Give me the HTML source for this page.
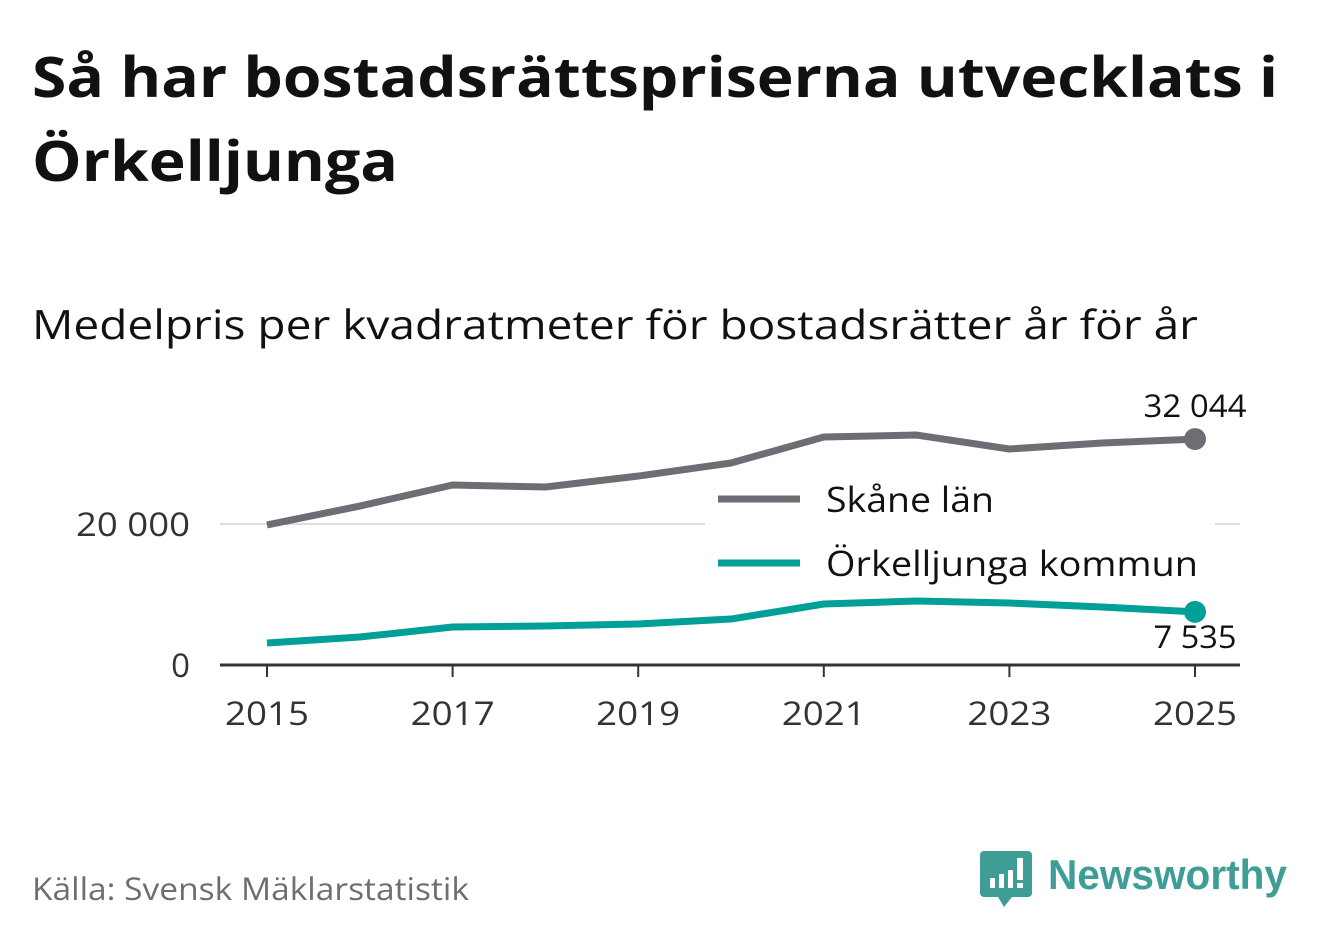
<!DOCTYPE html>
<html><head><meta charset="utf-8"><style>
body{margin:0;width:1322px;height:939px;background:#fff;font-family:"Open Sans","DejaVu Sans","Liberation Sans",sans-serif;overflow:hidden}
svg{position:absolute;left:0;top:0}
</style></head><body>
<svg width="1322" height="939">
<text x="32" y="97" font-size="56" font-weight="bold" fill="#111" textLength="1246" lengthAdjust="spacingAndGlyphs">Så har bostadsrättspriserna utvecklats i</text>
<text x="32" y="181" font-size="56" font-weight="bold" fill="#111" textLength="366" lengthAdjust="spacingAndGlyphs">Örkelljunga</text>
<text x="32" y="339" font-size="40" fill="#111" textLength="1166" lengthAdjust="spacingAndGlyphs">Medelpris per kvadratmeter för bostadsrätter år för år</text>
<g id="grid"></g>
<g id="axes"></g>
<g id="series"></g>
<g>
<rect x="705" y="470" width="510" height="122" fill="#fff" opacity="0.9"/>
<line x1="718" y1="499" x2="800" y2="499" stroke="#6e6d74" stroke-width="7"/>
<text x="826" y="512" font-size="35" fill="#111" textLength="168" lengthAdjust="spacingAndGlyphs">Skåne län</text>
<line x1="718" y1="563" x2="800" y2="563" stroke="#00a099" stroke-width="7"/>
<text x="826" y="576" font-size="35" fill="#111" textLength="372" lengthAdjust="spacingAndGlyphs">Örkelljunga kommun</text>
</g>
<text x="32" y="900" font-size="31" fill="#6e6d74" textLength="437" lengthAdjust="spacingAndGlyphs">Källa: Svensk Mäklarstatistik</text>
<g>
<path d="M984 851 h44 a4 4 0 0 1 4 4 v38 a4 4 0 0 1 -4 4 h-16 l-8 10 l-6 -10 h-14 a4 4 0 0 1 -4 -4 v-38 a4 4 0 0 1 4 -4z" fill="#3e9e96"/>
<rect x="990" y="878" width="5" height="10" fill="#fff"/><rect x="999" y="874" width="5" height="14" fill="#fff"/><rect x="1008" y="870" width="5" height="18" fill="#fff"/><rect x="1017" y="858" width="6" height="22" fill="#fff"/><rect x="1017" y="883" width="6" height="5" fill="#fff"/>
<text x="1048" y="889" font-size="42" font-weight="bold" fill="#3e9e96" textLength="239" lengthAdjust="spacingAndGlyphs" font-family="Liberation Sans, sans-serif">Newsworthy</text>
</g>
</svg>
<script>
const years=[2015,2016,2017,2018,2019,2020,2021,2022,2023,2024,2025];
const skane=[19860,22550,25530,25250,26800,28650,32340,32620,30640,31490,32044];
const orkelljunga=[3120,3970,5390,5530,5820,6520,8650,9080,8790,8230,7535];
const xTicks=[2015,2017,2019,2021,2023,2025];
const yTicks=[0,20000];
const NS="http://www.w3.org/2000/svg";
const X=y=>267+(y-2015)*92.8;
const Y=v=>665-v*0.00705;
function mk(t,a,p){const e=document.createElementNS(NS,t);for(const k in a)e.setAttribute(k,a[k]);document.getElementById(p).appendChild(e);return e;}
const fmt=v=>String(v).replace(/\B(?=(\d{3})+(?!\d))/g," ");
yTicks.forEach(v=>{
 if(v>0){const l=mk('line',{x1:220,x2:1240,y1:Y(v),y2:Y(v),stroke:'#ddd','stroke-width':2},'grid');
 
 }
 const a={x:190,y:Y(v)+12,'text-anchor':'end','font-size':33,fill:'#333'};
 if(v>0){a.textLength=114;a.lengthAdjust='spacingAndGlyphs';}
 const t=mk('text',a,'axes');t.textContent=fmt(v);
 
 
});
const ax=mk('line',{x1:220,x2:1240,y1:Y(0),y2:Y(0),stroke:'#333','stroke-width':3},'axes');


xTicks.forEach(y=>{
 const tk=mk('line',{x1:X(y),x2:X(y),y1:Y(0),y2:Y(0)+12,stroke:'#333','stroke-width':2},'axes');
 
 
 const t=mk('text',{x:X(y),y:725,'text-anchor':'middle','font-size':33,fill:'#333',textLength:84,lengthAdjust:'spacingAndGlyphs'},'axes');t.textContent=y;
 
 
});
function series(vals,col,name,lblDy,lblW){
 const p=mk('polyline',{points:vals.map((v,i)=>X(years[i])+','+Y(v)).join(' '),fill:'none',stroke:col,'stroke-width':7,'stroke-linejoin':'round'},'series');
 
 
 const n=vals.length-1;
 const c=mk('circle',{cx:X(years[n]),cy:Y(vals[n]),r:11,fill:col},'series');
 
 
 const t=mk('text',{x:X(years[n]),y:Y(vals[n])+lblDy,'text-anchor':'middle','font-size':31,fill:'#111',textLength:lblW,lengthAdjust:'spacingAndGlyphs'},'series');t.textContent=fmt(vals[n]);
 
 
}
series(skane,'#6e6d74','skane',-22,103);
series(orkelljunga,'#00a099','orkelljunga',36,83);
</script>
</body></html>
